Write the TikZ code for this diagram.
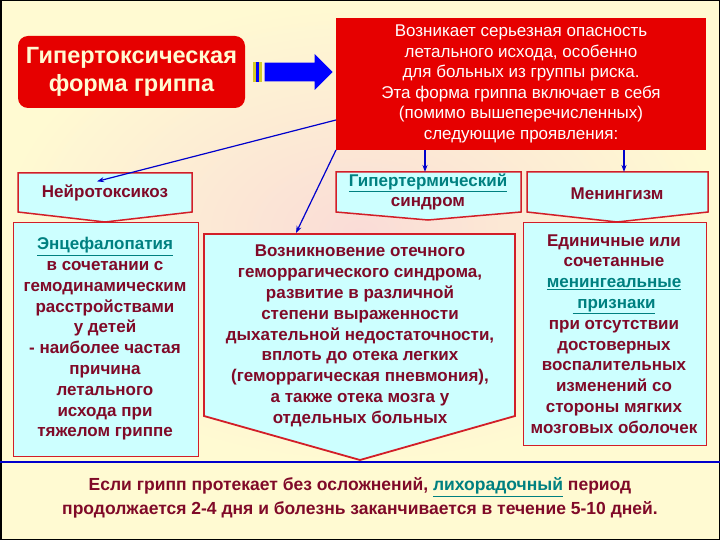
\documentclass[tikz,border=0pt]{standalone}
\usepackage{fontspec}
\setmainfont{Liberation Sans}
\usetikzlibrary{arrows.meta,shapes.arrows}
\definecolor{txt}{RGB}{128,10,40}
\definecolor{lnk}{RGB}{0,128,128}
\definecolor{bred}{RGB}{230,0,0}
\definecolor{ebox}{RGB}{210,30,40}
\definecolor{cy}{RGB}{205,255,255}
\definecolor{bgy}{RGB}{255,250,210}
\definecolor{bgp}{RGB}{250,220,215}
\newcommand{\lk}[1]{\textcolor{lnk}{\underline{#1}}}
\tikzset{
 tx/.style={font=\bfseries\fontsize{17}{20.8}\selectfont,text=txt,align=center},
 conn/.style={draw=blue!80!black,line width=1.2pt,-{Stealth[length=7pt,width=5pt]}},
 cbox/.style={fill=cy,draw=ebox,line width=1.5pt}
}
\begin{document}
\begin{tikzpicture}[x=1pt,y=-1pt]
\useasboundingbox (0,0) rectangle (720,540);
\shade[inner color=bgp,outer color=bgy] (0,0) rectangle (720,462);
\fill[bgy] (0,462) rectangle (720,540);
\draw[black,line width=1.5pt] (0.75,0.75) rectangle (719.25,539.25);
% title box
\node[fill=bred,rounded corners=10pt,minimum width=227,minimum height=72,text=bgy,
 font=\fontsize{23.5}{28}\selectfont\bfseries,align=center] (ttl) at (131.5,72) {Гипертоксическая\\форма гриппа};
% arrow
\node[single arrow,fill=blue,draw=none,minimum height=68,minimum width=36,single arrow head extend=3pt,inner sep=3pt] (arr) at (294,72) {};
\fill[yellow!80!black] (253,62) rectangle (256,82);
\fill[blue] (256,62) rectangle (259,82);
\fill[yellow!80!black] (259,62) rectangle (262,82);
% top red
\node[fill=bred,minimum width=370,minimum height=132,text=white,
 font=\fontsize{17}{20.5}\selectfont,align=center] (top) at (521,84)
 {Возникает серьезная опасность\\летального исхода, особенно\\для больных из группы риска.\\Эта форма гриппа включает в себя\\(помимо вышеперечисленных)\\следующие проявления:};
% headers
\draw[cbox] (18,173) -- (192,173) -- (192,212) -- (105,222) -- (18,212) -- cycle;
\node[tx] (h1) at (105,193) {Нейротоксикоз};
\draw[cbox] (336,172) -- (521,172) -- (521,212) -- (428,220) -- (336,212) -- cycle;
\node[tx] (h2) at (428,192) {\lk{Гипертермический}\\синдром};
\draw[cbox] (527,172) -- (708,172) -- (708,212) -- (617,222) -- (527,212) -- cycle;
\node[tx] (h3) at (617,194) {Менингизм};
% content boxes
\draw[cbox,line width=0.7pt] (13,222) rectangle (198,456);
\node[tx] (b1) at (105,339) {\lk{Энцефалопатия}\\в сочетании с\\гемодинамическим\\расстройствами\\у детей\\- наиболее частая\\причина\\летального\\исхода при\\тяжелом гриппе};
\draw[cbox,line width=1.8pt] (204,234) -- (515,234) -- (515,416) -- (360,460) -- (204,416) -- cycle;
\node[tx] (b2) at (360,336) {Возникновение отечного\\геморрагического синдрома,\\развитие в различной\\степени выраженности\\дыхательной недостаточности,\\вплоть до отека легких\\(геморрагическая пневмония),\\а также отека мозга у\\отдельных больных};
\draw[cbox,line width=0.7pt] (523,222) rectangle (706,445);
\node[tx] (b3) at (614,334) {Единичные или\\сочетанные\\\lk{менингеальные}\\\lk{ признаки}\\при отсутствии\\достоверных\\воспалительных\\изменений со\\стороны мягких\\мозговых оболочек};
% blue line
\draw[blue!80!black,line width=1.5pt] (0,462) -- (720,462);
\node[tx,font=\bfseries\fontsize{17.5}{24}\selectfont] (ft) at (360,498) {Если грипп протекает без осложнений, \lk{лихорадочный} период\\продолжается 2-4 дня и болезнь заканчивается в течение 5-10 дней.};
% connectors
\coordinate (c1) at (336,120);
\coordinate (c2) at (336,150);
\draw[conn] (c1) -- (h1.north -| 97,173);
\draw[conn] (c2) -- (296,233);
\draw[conn] (top.south -| 425,0) -- (425,172);
\draw[conn] (top.south -| 624,0) -- (624,172);
\end{tikzpicture}
\end{document}
